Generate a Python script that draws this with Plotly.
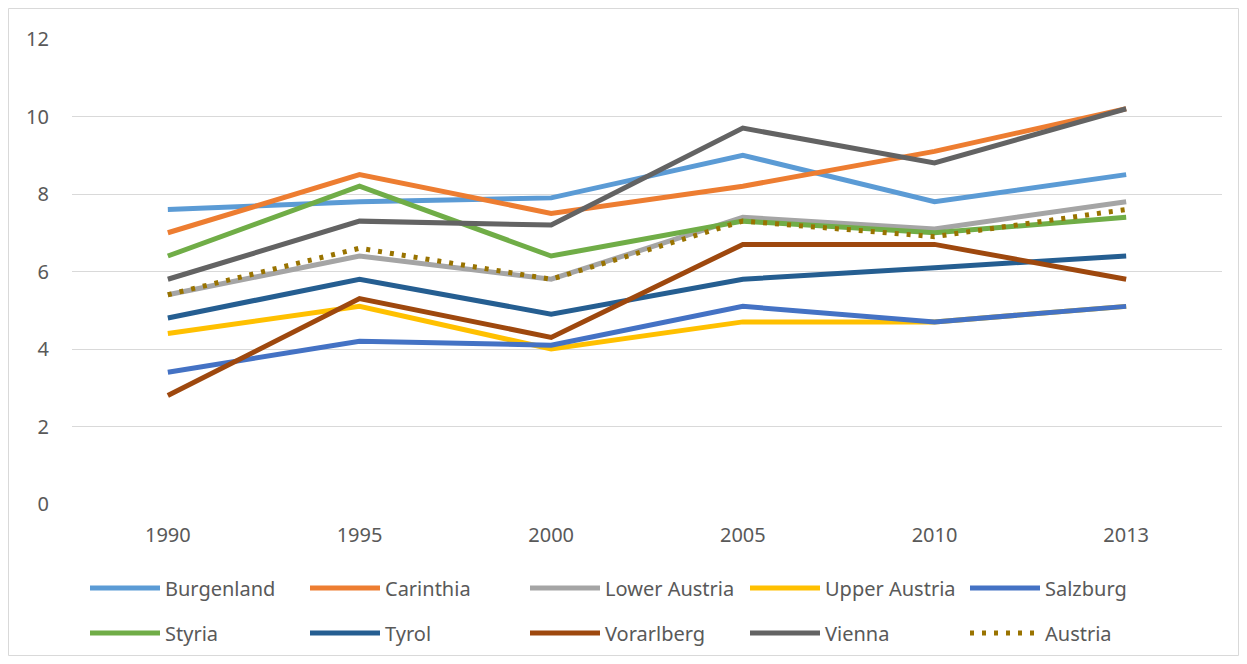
import plotly.graph_objects as go

years = ["1990", "1995", "2000", "2005", "2010", "2013"]
burgenland = [7.6, 7.8, 7.9, 9.0, 7.8, 8.5]
carinthia = [7.0, 8.5, 7.5, 8.2, 9.1, 10.2]
lower_austria = [5.4, 6.4, 5.8, 7.4, 7.1, 7.8]
upper_austria = [4.4, 5.1, 4.0, 4.7, 4.7, 5.1]
salzburg = [3.4, 4.2, 4.1, 5.1, 4.7, 5.1]
styria = [6.4, 8.2, 6.4, 7.3, 7.0, 7.4]
tyrol = [4.8, 5.8, 4.9, 5.8, 6.1, 6.4]
vorarlberg = [2.8, 5.3, 4.3, 6.7, 6.7, 5.8]
vienna = [5.8, 7.3, 7.2, 9.7, 8.8, 10.2]
austria = [5.4, 6.6, 5.8, 7.3, 6.9, 7.6]

series = [
    ("Burgenland", burgenland, "#5B9BD5", "solid"),
    ("Carinthia", carinthia, "#ED7D31", "solid"),
    ("Lower Austria", lower_austria, "#A5A5A5", "solid"),
    ("Upper Austria", upper_austria, "#FFC000", "solid"),
    ("Salzburg", salzburg, "#4472C4", "solid"),
    ("Styria", styria, "#70AD47", "solid"),
    ("Tyrol", tyrol, "#255E91", "solid"),
    ("Vorarlberg", vorarlberg, "#9E480E", "solid"),
    ("Vienna", vienna, "#636363", "solid"),
    ("Austria", austria, "#997300", "4px,8px"),
]

fig = go.Figure()
for i, (name, vals, color, dash) in enumerate(series):
    fig.add_trace(go.Scatter(
        x=years, y=vals, name=name, mode="lines",
        line=dict(color=color, width=5, dash=dash),
        legend="legend" if i < 5 else "legend2",
    ))

# page has an 8px body margin; compensate
OFF = 8
W, H = 1247 - 2 * OFF, 664 - 2 * OFF
ml, mt = 72 - OFF, 39 - OFF
pw, ph = 1150, 465
mr = W - ml - pw
mb = H - mt - ph

leg_common = dict(orientation="h", xref="container", yref="container",
                  xanchor="left", yanchor="middle",
                  entrywidth=135, entrywidthmode="pixels",
                  font=dict(family="Noto Sans", size=20, color="#595959"),
                  itemwidth=70, traceorder="normal", bgcolor="rgba(0,0,0,0)")

fig.update_layout(
    width=W, height=H,
    margin=dict(l=ml, r=mr, t=mt, b=mb, autoexpand=False),
    paper_bgcolor="white", plot_bgcolor="white",
    font=dict(family="Noto Sans", size=20, color="#595959"),
    xaxis=dict(type="category", range=[-0.5, 5.5], showgrid=False,
               showline=False, ticks="", zeroline=False, automargin=False,
               tickfont=dict(size=20, color="#595959"), ticklabelstandoff=17),
    yaxis=dict(range=[0, 12], dtick=2, showgrid=True, gridcolor="#D9D9D9",
               gridwidth=1, zeroline=False, showline=False, ticks="",
               automargin=False,
               tickfont=dict(size=20, color="#595959"), ticklabelstandoff=22),
    legend=dict(leg_common, x=(85 - OFF) / W, y=1 - (588 - OFF) / H),
    legend2=dict(leg_common, x=(85 - OFF) / W, y=1 - (633 - OFF) / H),
    showlegend=True,
)

fig.add_shape(type="rect", xref="paper", yref="paper",
              x0=(0.5 - ml) / pw, x1=(W - 0.5 - ml) / pw,
              y0=-(H - 0.5 - (mt + ph)) / ph, y1=1 + (mt - 0.5) / ph,
              line=dict(color="#D9D9D9", width=1), fillcolor="rgba(0,0,0,0)",
              layer="below")

fig.write_html("out.html")
